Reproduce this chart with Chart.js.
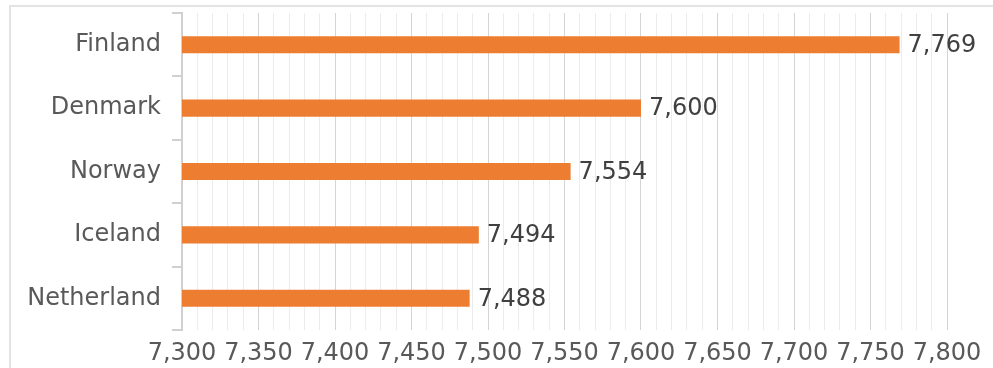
<!DOCTYPE html>
<html>
<head>
<meta charset="utf-8">
<script src="https://cdn.jsdelivr.net/npm/chart.js@4/dist/chart.umd.min.js"></script>
<style>
  html, body { margin: 0; padding: 0; background: #ffffff; }
  #frame {
    position: absolute; left: 9px; top: 5px; width: 1000px; height: 400px;
    border: 2px solid #e3e3e3; box-sizing: border-box;
  }
  #wrap { position: absolute; left: 0; top: 0; width: 993px; height: 368px; }
</style>
</head>
<body>
<div id="frame"></div>
<div id="wrap"><canvas id="c" width="993" height="368"></canvas></div>
<script>
// Happiness index, top five countries
const countries = ['Finland', 'Denmark', 'Norway', 'Iceland', 'Netherland'];
const scores = [7.769, 7.600, 7.554, 7.494, 7.488];

// Axis range and label spacing
const axisMin = 7.3;
const axisMax = 7.8;
const minorStep = 0.01;
const labelStep = 0.05;

const fmt = v => v.toFixed(3).replace('.', ',');
const isMajor = v => Math.abs(Math.round(v / labelStep) * labelStep - v) < 1e-6;

const FONT = 'DejaVu Sans';
const FONT_SIZE = 24;

// Draws the score next to the end of each bar
const valueLabels = {
  id: 'valueLabels',
  afterDatasetsDraw(chart) {
    const ctx = chart.ctx;
    const meta = chart.getDatasetMeta(0);
    ctx.save();
    ctx.font = FONT_SIZE + 'px "DejaVu Sans"';
    ctx.fillStyle = '#404040';
    ctx.textAlign = 'left';
    ctx.textBaseline = 'middle';
    meta.data.forEach((bar, i) => {
      ctx.fillText(fmt(scores[i]), bar.x + 8, bar.y + 1);
    });
    ctx.restore();
  }
};

new Chart(document.getElementById('c'), {
  type: 'bar',
  data: {
    labels: countries,
    datasets: [{
      data: scores,
      backgroundColor: '#ED7D31',
      borderWidth: 0,
      barPercentage: 0.27,
      categoryPercentage: 1.0
    }]
  },
  options: {
    indexAxis: 'y',
    responsive: false,
    animation: false,
    events: [],
    layout: { padding: { left: 0, right: 46, top: 13, bottom: 0 } },
    plugins: { legend: { display: false }, tooltip: { enabled: false } },
    scales: {
      x: {
        min: axisMin,
        max: axisMax,
        border: { display: false },
        grid: {
          drawTicks: false,
          lineWidth: 1,
          color: ctx => isMajor(ctx.tick.value) ? '#d4d4d4' : '#ececec'
        },
        ticks: {
          stepSize: minorStep,
          autoSkip: false,
          maxRotation: 0,
          padding: 9,
          color: '#595959',
          font: { family: FONT, size: FONT_SIZE },
          callback: v => isMajor(v) ? fmt(v) : ''
        },
        afterFit(scale) {
          scale.paddingLeft = 0;
          scale.paddingRight = 0;
          scale.height = 38;
        }
      },
      y: {
        offset: true,
        border: { display: true, color: '#d0d0d0', width: 2 },
        grid: {
          offset: true,
          drawOnChartArea: false,
          drawTicks: true,
          tickLength: 10,
          color: '#d0d0d0',
          lineWidth: 2
        },
        ticks: {
          padding: 11,
          color: '#595959',
          font: { family: FONT, size: FONT_SIZE }
        },
        afterFit(scale) {
          scale.paddingTop = 0;
          scale.paddingBottom = 0;
          scale.width = 182;
        }
      }
    }
  },
  plugins: [valueLabels]
});
</script>
</body>
</html>
